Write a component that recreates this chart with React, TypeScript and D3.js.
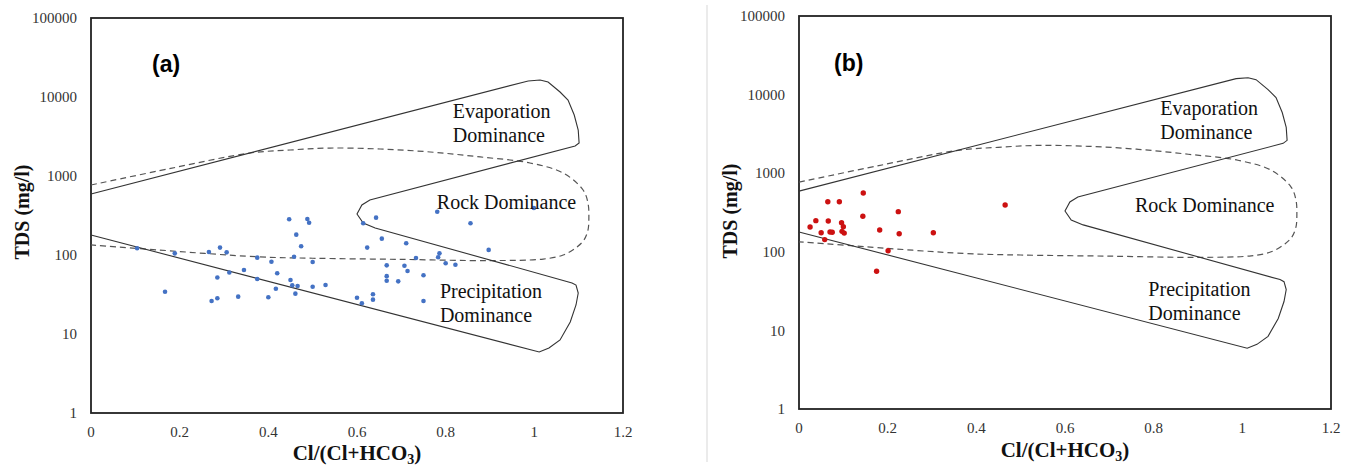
import React from "react";
import * as d3 from "d3";

// ---------- data ----------
const xTicks = [0, 0.2, 0.4, 0.6, 0.8, 1, 1.2];
const xTickLabels = ["0", "0.2", "0.4", "0.6", "0.8", "1", "1.2"];
const yTicks = [1, 10, 100, 1000, 10000, 100000];
const yTickLabels = ["1", "10", "100", "1000", "10000", "100000"];

// Gibbs boundary (solid) : [Cl/(Cl+HCO3), TDS]
const solidBoundary: [number, number][] = [
  [0, 592], [0.986, 15960], [1.013, 16400], [1.031, 15490], [1.058, 11560],
  [1.076, 9160], [1.09, 5920], [1.099, 3820], [1.101, 2620], [1.092, 2400],
  [0.629, 497], [0.611, 430], [0.6, 330], [0.614, 254], [0.641, 220],
  [1.085, 44.3], [1.094, 41.7], [1.099, 33.0], [1.094, 23.3], [1.081, 14.2],
  [1.058, 8.4], [1.033, 6.65], [1.011, 5.92], [0, 179],
];

// Gibbs boundary (dashed)
const dashedBoundary: [number, number][] = [
  [0, 769], [0.18, 1250], [0.359, 1955], [0.449, 2133], [0.539, 2259], [0.652, 2198],
  [0.765, 2014], [0.878, 1742], [0.99, 1462], [1.065, 1091], [1.11, 665],
  [1.121, 455], [1.123, 294], [1.121, 207], [1.112, 155], [1.096, 126],
  [1.065, 100], [1.02, 88.9], [0.9, 85], [0.7, 88], [0.5, 91], [0.375, 95],
  [0.15, 116], [0, 134],
];

// panel (a) samples
const samplesA: [number, number][] = [
  [0.104, 121.6], [0.167, 34.3], [0.189, 105], [0.266, 109], [0.291, 124],
  [0.306, 108], [0.285, 52], [0.312, 60], [0.272, 26.2], [0.285, 28.3],
  [0.332, 29.7], [0.345, 64.6], [0.375, 92.5], [0.375, 49.7], [0.4, 29.2],
  [0.407, 82.3], [0.42, 58.7], [0.417, 37.4], [0.447, 283], [0.463, 181],
  [0.474, 129], [0.458, 95], [0.45, 48.3], [0.454, 41.3], [0.466, 40.5],
  [0.461, 32.4], [0.488, 286], [0.492, 256], [0.5, 81.5], [0.5, 39.7],
  [0.529, 41.7], [0.614, 252], [0.643, 297], [0.623, 124], [0.656, 161],
  [0.711, 141], [0.781, 353], [0.856, 252], [0.897, 116], [0.667, 74],
  [0.667, 54], [0.667, 47.3], [0.693, 46.4], [0.707, 73.2], [0.714, 62.7],
  [0.733, 91.6], [0.75, 55.3], [0.786, 105], [0.783, 93.5], [0.8, 78.5],
  [0.822, 75.4], [0.75, 26.2], [0.6, 28.8], [0.611, 24.5], [0.636, 31.8],
  [0.636, 27.2], [0.999, 394],
];

// panel (b) samples
const samplesB: [number, number][] = [
  [0.025, 207], [0.038, 249], [0.05, 175], [0.058, 143], [0.065, 434],
  [0.066, 247], [0.07, 179], [0.075, 177], [0.091, 434], [0.096, 235],
  [0.1, 209], [0.097, 182], [0.102, 173], [0.145, 560], [0.144, 283],
  [0.182, 189], [0.175, 56.5], [0.201, 103], [0.224, 324], [0.226, 170],
  [0.303, 175], [0.465, 394],
];

const regionLabelsA = [
  { lines: ["Evaporation", "Dominance"], x: 0.816, t: 5460 },
  { lines: ["Rock Dominance"], x: 0.78, t: 382 },
  { lines: ["Precipitation", "Dominance"], x: 0.787, t: 28.6 },
];
const regionLabelsB = [
  { lines: ["Evaporation", "Dominance"], x: 0.815, t: 5500 },
  { lines: ["Rock Dominance"], x: 0.758, t: 321 },
  { lines: ["Precipitation", "Dominance"], x: 0.788, t: 27.4 },
];

// ---------- layout ----------
const panels = [
  {
    id: "a", left: 91, top: 18, right: 623, bottom: 413,
    samples: samplesA, color: "#4472C4", r: 2.3, labels: regionLabelsA,
    tag: "(a)", tagX: 152, tagY: 72, yTitleX: 22, yTitleY: 212, xTitleY: 460,
  },
  {
    id: "b", left: 799, top: 16, right: 1331, bottom: 409,
    samples: samplesB, color: "#CC1111", r: 2.7, labels: regionLabelsB,
    tag: "(b)", tagX: 834, tagY: 71, yTitleX: 730, yTitleY: 211, xTitleY: 457,
  },
];

const serif = "'Liberation Serif', 'Times New Roman', serif";

function Panel({ p }: { p: (typeof panels)[number] }) {
  const x = d3.scaleLinear().domain([0, 1.2]).range([p.left, p.right]);
  const y = d3.scaleLog().domain([1, 100000]).range([p.bottom, p.top]);
  const solid = d3
    .line<[number, number]>()
    .x((d) => x(d[0]))
    .y((d) => y(d[1]))
    .curve(d3.curveLinear)(solidBoundary) as string;
  const dashed = d3
    .line<[number, number]>()
    .x((d) => x(d[0]))
    .y((d) => y(d[1]))
    .curve(d3.curveCatmullRom.alpha(0.5))(dashedBoundary) as string;
  const cx = (p.left + p.right) / 2;
  return (
    <g>
      <rect x={p.left} y={p.top} width={p.right - p.left} height={p.bottom - p.top}
        fill="#fff" stroke="#222" strokeWidth={1.8} />
      <path d={dashed} fill="none" stroke="#555" strokeWidth={1.2} strokeDasharray="6,4" />
      <path d={solid} fill="none" stroke="#333" strokeWidth={1.1} />
      {p.samples.map((d, i) => (
        <circle key={i} cx={x(d[0])} cy={y(d[1])} r={p.r} fill={p.color} />
      ))}
      {p.labels.map((l, i) => (
        <text key={i} x={x(l.x)} y={y(l.t)} fontFamily={serif} fontSize={20} fill="#111">
          {l.lines.map((s, j) => (
            <tspan key={j} x={x(l.x)} dy={j === 0 ? 0 : 24}>{s}</tspan>
          ))}
        </text>
      ))}
      {yTicks.map((t, i) => (
        <text key={i} x={p.left - 14} y={y(t)} dy="0.35em" textAnchor="end"
          fontFamily={serif} fontSize={15} fill="#333">{yTickLabels[i]}</text>
      ))}
      {xTicks.map((t, i) => (
        <text key={i} x={x(t)} y={p.bottom + 24} textAnchor="middle"
          fontFamily={serif} fontSize={15} fill="#333">{xTickLabels[i]}</text>
      ))}
      <text x={p.tagX} y={p.tagY} fontFamily="'Liberation Sans', Arial, sans-serif"
        fontWeight="bold" fontSize={23} fill="#000">{p.tag}</text>
      <text transform={`translate(${p.yTitleX},${p.yTitleY}) rotate(-90)`} textAnchor="middle"
        dy="0.35em" fontFamily={serif} fontWeight="bold" fontSize={20} fill="#111">TDS (mg/l)</text>
      <text x={cx} y={p.xTitleY} textAnchor="middle" fontFamily={serif} fontWeight="bold"
        fontSize={21} fill="#111">
        Cl/(Cl+HCO<tspan fontSize={14} dy={4}>3</tspan><tspan dy={-4}>)</tspan>
      </text>
    </g>
  );
}

export default function App() {
  return (
    <svg width={1346} height={468} style={{ position: "absolute", left: 0, top: 0, background: "#fff" }}>
      <rect x={0} y={0} width={1346} height={468} fill="#fff" />
      <line x1={707} y1={5} x2={707} y2={462} stroke="#ebebeb" strokeWidth={2} />
      {panels.map((p) => <Panel key={p.id} p={p} />)}
    </svg>
  );
}
